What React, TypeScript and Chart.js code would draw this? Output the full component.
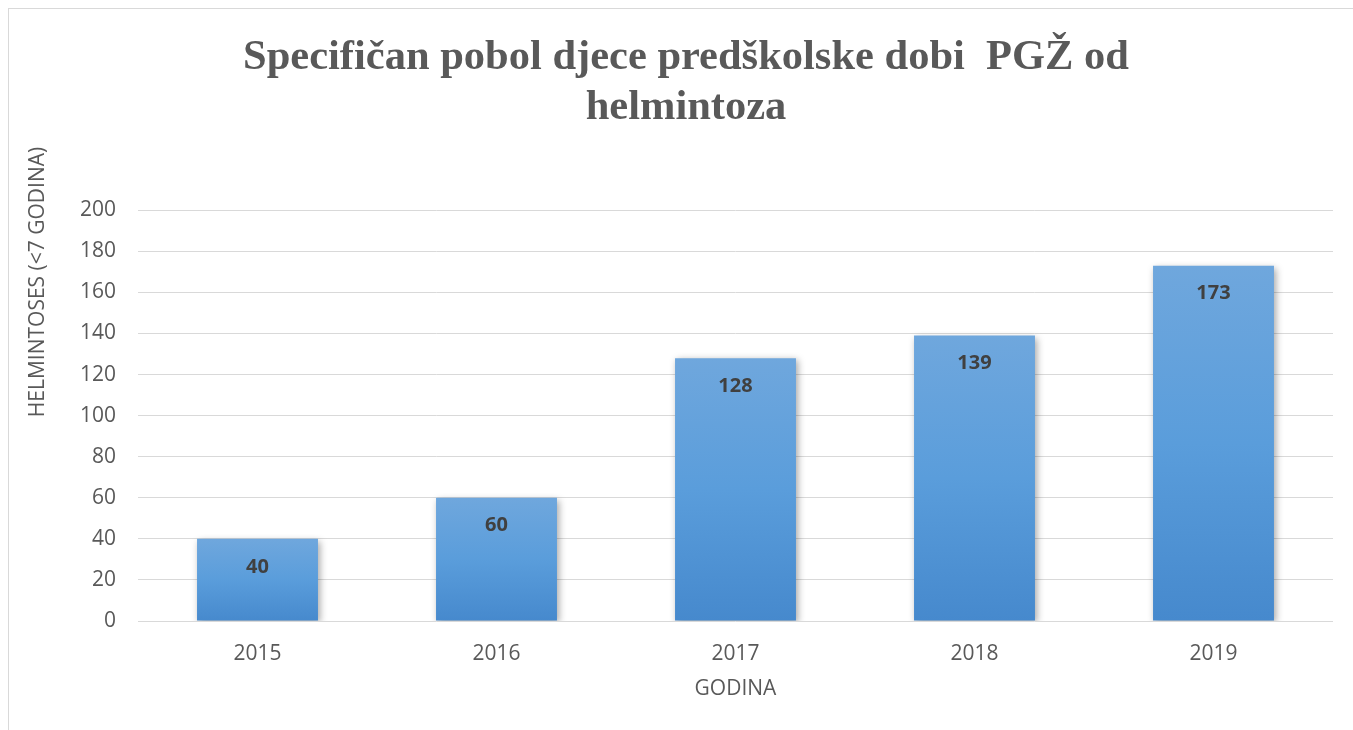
import React, { useEffect, useRef } from "react";
import { Chart, registerables } from "chart.js";

Chart.register(...registerables);

const categories: string[] = ["2015", "2016", "2017", "2018", "2019"];
const values: number[] = [40, 60, 128, 139, 173];
const titleLines: string[] = ["Specifičan pobol djece predškolske dobi  PGŽ od", "helmintoza"];
const yAxisTitle = "HELMINTOSES (<7 GODINA)";
const xAxisTitle = "GODINA";

const TEXT_GRAY = "#595959";
const SANS = "'Open Sans', 'Liberation Sans', sans-serif";

const shadowPlugin = {
  id: "barShadow",
  beforeDatasetsDraw(chart: any) {
    const ctx = chart.ctx;
    ctx.save();
    ctx.shadowColor = "rgba(0,0,0,0.35)";
    ctx.shadowBlur = 7;
    ctx.shadowOffsetX = 2;
    ctx.shadowOffsetY = 2;
  },
  afterDatasetsDraw(chart: any) {
    chart.ctx.restore();
  },
};

const labelPlugin = {
  id: "barLabels",
  afterDatasetsDraw(chart: any) {
    const ctx = chart.ctx;
    const meta = chart.getDatasetMeta(0);
    ctx.save();
    ctx.font = `bold 20px ${SANS}`;
    ctx.fillStyle = "#404040";
    ctx.textAlign = "center";
    ctx.textBaseline = "middle";
    meta.data.forEach((el: any, i: number) => {
      ctx.fillText(String(values[i]), el.x, el.y + 28);
    });
    ctx.restore();
  },
};

const yTitlePlugin = {
  id: "yTitle",
  afterDraw(chart: any) {
    const ctx = chart.ctx;
    ctx.save();
    ctx.translate(38, 282);
    ctx.rotate(-Math.PI / 2);
    ctx.font = `21px ${SANS}`;
    ctx.fillStyle = TEXT_GRAY;
    ctx.textAlign = "center";
    ctx.textBaseline = "middle";
    ctx.fillText(yAxisTitle, 0, 0);
    ctx.restore();
  },
};

export default function App() {
  const ref = useRef<HTMLCanvasElement | null>(null);

  useEffect(() => {
    if (!ref.current) return;
    const chart = new Chart(ref.current, {
      type: "bar",
      data: {
        labels: categories,
        datasets: [
          {
            data: values,
            backgroundColor: (c: any) => {
              const ch = c.chart;
              const y = ch.scales?.y;
              if (!y || c.dataIndex === undefined) return "#5b9bd5";
              const top = y.getPixelForValue(values[c.dataIndex]);
              const base = y.getPixelForValue(0);
              if (!isFinite(top) || !isFinite(base) || top === base) return "#5b9bd5";
              const g = ch.ctx.createLinearGradient(0, top, 0, base);
              g.addColorStop(0, "#6fa7dd");
              g.addColorStop(0.5, "#5a9ddb");
              g.addColorStop(1, "#4689cd");
              return g;
            },
            borderWidth: 0,
            categoryPercentage: 1,
            barPercentage: 0.506,
          },
        ],
      },
      options: {
        responsive: false,
        animation: false,
        layout: { padding: { left: 39, right: 20, top: 0, bottom: 0 } },
        plugins: {
          legend: { display: false },
          tooltip: { enabled: false },
          title: {
            display: true,
            text: titleLines,
            color: TEXT_GRAY,
            font: { family: "'Liberation Serif', 'Times New Roman', serif", size: 42.5, weight: "bold", lineHeight: 1.18 },
            padding: { top: 33, bottom: 77 },
          },
        },
        scales: {
          x: {
            grid: { display: false, drawTicks: false },
            border: { display: false },
            ticks: { color: TEXT_GRAY, font: { family: SANS, size: 21 }, padding: 20 },
            title: {
              display: true,
              text: xAxisTitle,
              color: TEXT_GRAY,
              font: { family: SANS, size: 21, lineHeight: 1.2 },
              padding: { top: 0, bottom: 28 },
            },
            afterFit: (s: any) => {
              s.height = 109;
            },
          },
          y: {
            min: 0,
            max: 200,
            ticks: { stepSize: 20, color: TEXT_GRAY, font: { family: SANS, size: 21 }, padding: 22 },
            grid: { color: "#d9d9d9", lineWidth: 1, drawTicks: false },
            border: { display: false },
            afterFit: (s: any) => {
              s.width = 99;
            },
          },
        },
      },
      plugins: [shadowPlugin, labelPlugin, yTitlePlugin],
    });
    return () => chart.destroy();
  }, []);

  return (
    <>
      <div
        style={{
          position: "fixed",
          left: 8,
          top: 8,
          width: 1345,
          height: 722,
          borderTop: "1px solid #d9d9d9",
          borderLeft: "1px solid #d9d9d9",
          boxSizing: "border-box",
          pointerEvents: "none",
        }}
      />
      <canvas
        ref={ref}
        width={1353}
        height={730}
        style={{ position: "fixed", left: 0, top: 0, width: 1353, height: 730 }}
      />
    </>
  );
}
